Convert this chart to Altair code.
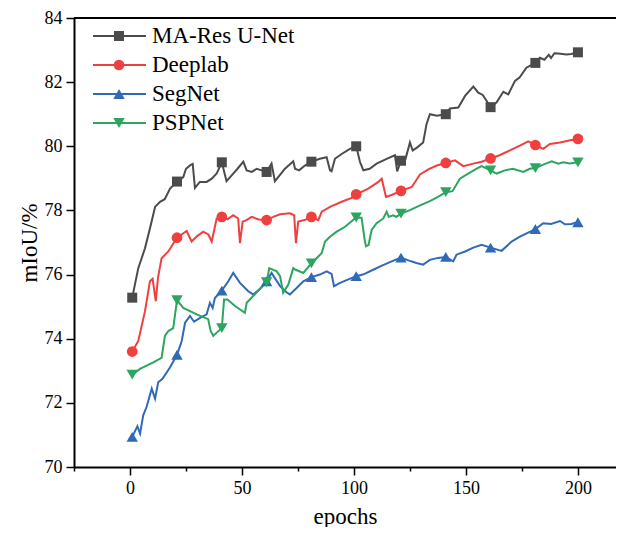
import altair as alt
import pandas as pd

SERIES = ["MA-Res U-Net", "Deeplab", "SegNet", "PSPNet"]
COLORS = ["#4b4b4b", "#ef4040", "#2f69b8", "#2ba55f"]
SHAPES = ["square", "circle", "triangle-up", "triangle-down"]
MSIZES = [100, 115, 130, 130]

MARK_EPOCHS = [1, 21, 41, 61, 81, 101, 121, 141, 161, 181, 200]

mares_e = [1, 3.7, 5.2, 6.7, 8.9, 11.2, 13.4, 15.5, 17.9, 21, 23.8, 25, 27.1, 28, 29, 31.2, 34.2, 36.5, 38.7, 41,
           43.1, 45.5, 48, 50.6, 52.1, 54.4, 56.6, 58.8, 61, 63.2, 64.7, 66.9, 69.2, 72.9, 73.7, 75.5, 78.1, 81,
           84.8, 87.8, 89.3, 90, 91.5, 94.5, 98.2, 101, 102.7, 104.2, 107, 110.1, 114.6, 118.3, 119.3, 121, 123,
           125, 126.2, 128, 130.9, 132.4, 133.9, 137, 141, 142.9, 146.6, 149.6, 153.3, 155.5, 157.5, 159.2, 161,
           163.7, 166.7, 168.9, 171.9, 174, 177, 181, 183, 185, 187, 188, 189.5, 191.2, 194.9, 197, 200]
mares_v = [75.28, 76.2, 76.51, 76.82, 77.44, 78.11, 78.27, 78.35, 78.68, 78.9, 79.04, 79.3, 79.42, 79.45, 78.7,
           78.89, 78.89, 78.99, 79.15, 79.5, 78.91, 79.1, 79.3, 79.52, 79.25, 79.2, 79.3, 79.25, 79.2, 79.46,
           78.91, 79.1, 79.3, 79.53, 79.3, 79.25, 79.4, 79.52, 79.61, 79.66, 79.25, 79.22, 79.61, 79.76, 79.92,
           80.0, 79.51, 79.25, 79.3, 79.46, 79.61, 79.72, 79.22, 79.55, 79.6, 80.12, 79.87, 79.95, 80.12, 80.69,
           81.0, 80.95, 81.0, 81.18, 81.21, 81.57, 81.86, 81.67, 81.6, 81.42, 81.22, 81.37, 81.7, 81.62, 82.04,
           82.15, 82.45, 82.6, 82.76, 82.7, 82.85, 82.75, 82.9, 82.89, 82.86, 82.88, 82.93]

deep_e = [1, 3.7, 6.7, 8.9, 10.1, 11.5, 12.5, 14.1, 17.1, 21, 23.8, 25.3, 27.5, 30, 32.7, 35, 36.5, 38.7, 41,
          43.5, 46.1, 48.3, 49.1, 50.3, 52, 54.3, 57.5, 61, 64, 67, 71.4, 73.3, 74.1, 75.1, 78, 81, 84.1, 85.6,
          89.3, 94.5, 99, 101, 106.4, 110.9, 112.4, 114.3, 116.8, 121, 125.8, 129.5, 133.2, 137, 141, 145.1,
          148.8, 153.3, 157, 161, 165, 169.6, 174.1, 177.8, 181, 184.5, 187.5, 192, 196, 200]
deep_v = [73.6, 73.93, 74.86, 75.79, 75.87, 75.17, 75.9, 76.51, 76.72, 77.15, 77.29, 77.36, 77.03, 77.2, 77.34,
          77.25, 77.03, 77.75, 77.8, 77.72, 77.85, 77.75, 76.98, 77.65, 77.7, 77.8, 77.72, 77.7, 77.8, 77.88,
          77.91, 77.85, 76.98, 77.65, 77.7, 77.8, 77.7, 77.96, 78.11, 78.27, 78.39, 78.5, 78.68, 78.89, 78.99,
          78.42, 78.48, 78.61, 78.73, 79.12, 79.28, 79.4, 79.48, 79.56, 79.38, 79.46, 79.52, 79.62, 79.72,
          79.87, 80.02, 80.15, 80.04, 79.92, 80.07, 80.12, 80.18, 80.23]

seg_e = [1, 3.3, 4.5, 5.9, 7.4, 9.7, 11.2, 12.6, 14.5, 17.9, 21, 23.1, 24.6, 26.8, 28.6, 31.3, 34.2, 35.7, 36.9,
         37.9, 41, 43.9, 46.1, 49.1, 52.8, 55, 58, 61, 63.2, 67, 69.9, 71.4, 74.4, 77.4, 81, 84.8, 87.8, 90,
         91.1, 93.8, 97.5, 101, 104, 108.6, 112.5, 116.8, 121, 124, 127.9, 130.9, 133.9, 137.5, 141, 144.3,
         145.8, 149.6, 153.3, 157, 161, 165.9, 170.4, 174.1, 177.8, 181, 184.5, 188, 192, 194.2, 197, 200]
seg_v = [70.94, 71.27, 71.04, 71.61, 71.87, 72.44, 72.13, 72.64, 72.75, 73.11, 73.5, 73.93, 74.5, 74.71, 74.53,
         74.65, 74.76, 75.12, 74.96, 75.27, 75.5, 75.79, 76.05, 75.74, 75.48, 75.38, 75.55, 75.79, 76.05, 75.64,
         75.45, 75.38, 75.58, 75.79, 75.92, 76.0, 76.1, 76.02, 75.64, 75.74, 75.85, 75.95, 76.0, 76.15, 76.28,
         76.41, 76.53, 76.45, 76.36, 76.31, 76.46, 76.52, 76.55, 76.41, 76.62, 76.72, 76.84, 76.93, 76.84,
         76.74, 77.03, 77.18, 77.31, 77.42, 77.6, 77.58, 77.67, 77.57, 77.58, 77.63]

psp_e = [1, 4.5, 7.4, 10.4, 14.1, 15.6, 17.1, 19.3, 21, 23.8, 29.8, 34.9, 36, 37.2, 38.7, 41, 42, 43.5, 46.9,
         51.3, 52.1, 55, 58, 61, 62.2, 65.5, 67, 68.4, 70.7, 72.9, 74, 77.4, 81, 83.3, 85.6, 87.1, 89.3, 92.3,
         96, 101, 103.4, 104.9, 105.4, 106.5, 107.9, 110.1, 113.1, 114.6, 115.5, 117.5, 119, 121, 125, 129.5,
         133.9, 137.5, 141, 144, 147.3, 151, 154.8, 157, 161, 163.7, 167.4, 171, 175.6, 178.5, 181, 184.5,
         188.3, 191.2, 193.5, 196.4, 200]
psp_v = [72.88, 73.06, 73.16, 73.26, 73.4, 74.09, 74.24, 74.33, 75.2, 74.96, 74.76, 74.61, 74.24, 74.09, 74.19,
         74.33, 75.22, 75.22, 75.02, 74.81, 75.12, 75.33, 75.55, 75.76, 76.2, 76.1, 75.95, 75.43, 75.69, 76.2,
         76.15, 76.05, 76.35, 76.51, 76.67, 77.03, 77.18, 77.34, 77.49, 77.78, 77.77, 77.03, 76.88, 76.92,
         77.39, 77.6, 77.75, 77.96, 77.8, 77.85, 77.8, 77.9, 78.01, 78.16, 78.29, 78.42, 78.57, 78.6, 78.99,
         79.15, 79.3, 79.38, 79.25, 79.15, 79.25, 79.3, 79.2, 79.3, 79.32, 79.43, 79.53, 79.46, 79.5, 79.46,
         79.5]

EPOCHS = [mares_e, deep_e, seg_e, psp_e]
VALUES = [mares_v, deep_v, seg_v, psp_v]

W, H = 542, 449
FONT = "Liberation Serif"

rows = []
for s, es, vs, shp, ms in zip(SERIES, EPOCHS, VALUES, SHAPES, MSIZES):
    for i, (e, v) in enumerate(zip(es, vs)):
        rows.append({"series": s, "epoch": e, "value": v, "order": i,
                     "marker": e in MARK_EPOCHS, "msize": ms})
df = pd.DataFrame(rows)

color = alt.Color("series:N", scale=alt.Scale(domain=SERIES, range=COLORS), legend=None)
shape = alt.Shape("series:N", scale=alt.Scale(domain=SERIES, range=SHAPES), legend=None)

x_axis = alt.Axis(
    title="epochs", values=list(range(-25, 201, 25)),
    labelExpr="datum.value % 50 === 0 ? datum.label : ''",
    tickSize={"condition": {"test": "datum.value % 50 === 0", "value": 8}, "value": 4},
    grid=False, domainColor="black", domainWidth=2, tickColor="black", tickWidth=1.5,
    labelFont=FONT, labelFontSize=18, labelColor="black", labelPadding=4,
    titleFont=FONT, titleFontSize=23, titleFontWeight="normal", titleColor="black", titlePadding=8,
)
y_axis = alt.Axis(
    title="mIoU/%", values=list(range(70, 85)),
    labelExpr="datum.value % 2 === 0 ? datum.label : ''",
    tickSize={"condition": {"test": "datum.value % 2 === 0", "value": 8}, "value": 4},
    grid=False, domainColor="black", domainWidth=2, tickColor="black", tickWidth=1.5,
    labelFont=FONT, labelFontSize=18, labelColor="black", labelPadding=4,
    titleFont=FONT, titleFontSize=23, titleFontWeight="normal", titleColor="black", titlePadding=3,
)

xenc = alt.X("epoch:Q", scale=alt.Scale(domain=[-25, 217], nice=False, zero=False), axis=x_axis)
yenc = alt.Y("value:Q", scale=alt.Scale(domain=[70, 84], nice=False, zero=False), axis=y_axis)

base = alt.Chart(df)
lines = base.mark_line(strokeWidth=2).encode(x=xenc, y=yenc, color=color, detail="series:N", order="order:Q")
points = base.transform_filter("datum.marker").mark_point(filled=True, opacity=1).encode(
    x="epoch:Q", y="value:Q", color=color, shape=shape, size=alt.Size("msize:Q", scale=None))

top = alt.Chart(pd.DataFrame({"a": [0]})).mark_rule(color="black", strokeWidth=2).encode(
    x=alt.value(0), x2=alt.value(W), y=alt.value(0))

legend_layers = []
LEG_Y = [18, 47, 76, 105]
for s, c, shp, ms, ly in zip(SERIES, COLORS, SHAPES, MSIZES, LEG_Y):
    d = pd.DataFrame({"series": [s]})
    legend_layers.append(alt.Chart(d).mark_rule(color=c, strokeWidth=2).encode(
        x=alt.value(19), x2=alt.value(72), y=alt.value(ly)))
    legend_layers.append(alt.Chart(d).mark_point(filled=True, opacity=1, color=c, shape=shp, size=ms).encode(
        x=alt.value(45), y=alt.value(ly)))
    legend_layers.append(alt.Chart(d).mark_text(font=FONT, fontSize=23, align="left", baseline="middle",
                                                color="black").encode(
        x=alt.value(78), y=alt.value(ly), text="series:N"))

chart = alt.layer(lines, points, top, *legend_layers).properties(
    width=W, height=H,
    autosize=alt.AutoSizeParams(type="none"),
    padding={"left": 66, "top": 10, "right": 0, "bottom": 60},
).configure_view(stroke=None).configure(background="white")

chart.save("out.html", embed_options={"renderer": "svg", "actions": False})
